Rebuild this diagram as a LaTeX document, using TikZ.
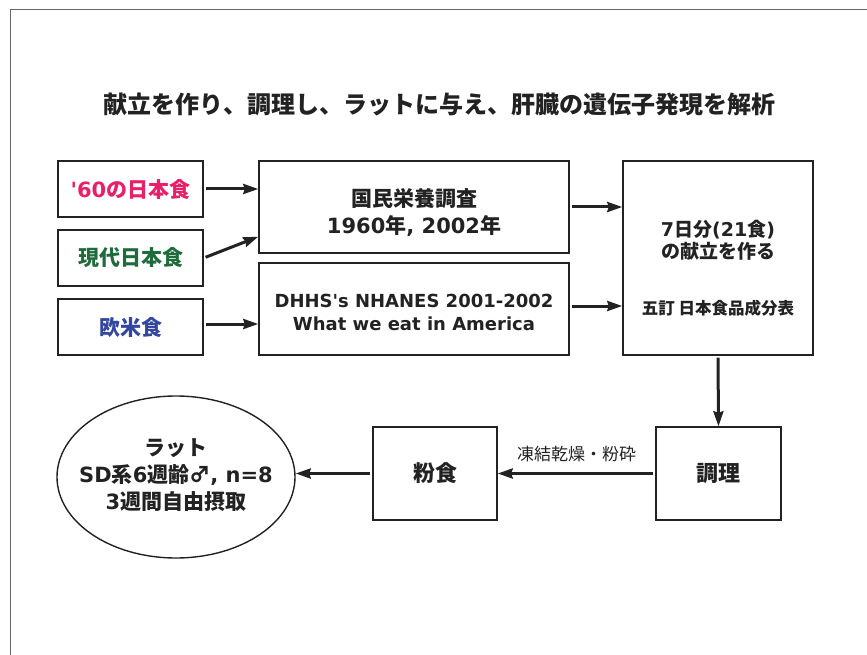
\documentclass[tikz,border=0pt]{standalone}
\usepackage{fontspec}
\setmainfont{DejaVu Sans}[Ligatures=TeXOff]
\newfontfamily\jp{Noto Sans CJK JP}
\usetikzlibrary{arrows.meta,shapes.geometric}
\definecolor{ink}{HTML}{222222}
\definecolor{framec}{HTML}{666666}
\definecolor{pinkc}{HTML}{E8206A}
\definecolor{greenc}{HTML}{1E6B3C}
\definecolor{bluec}{HTML}{3447A0}
\newcommand\J[1]{{\jp #1}}
\newcommand\lift[1]{\rule{0pt}{#1}}
\tikzset{
  box/.style={draw=ink, line width=1.4pt, inner sep=0pt, align=center, text=ink},
  arr/.style={draw=ink, line width=3pt, shorten <=2pt, -{Stealth[length=15pt,width=10pt,inset=1.5pt]}},
  big/.style={font=\bfseries\fontsize{21}{27}\selectfont},
}
\begin{document}
\begin{tikzpicture}[x=1pt,y=-1pt]
\useasboundingbox (0,0) rectangle (867,655);
\draw[framec, line width=1pt] (10,655) -- (10,10) -- (867,10);

\node[text=ink, font=\jp\bfseries\fontsize{24}{28}\selectfont] (title) at (439.5,104)
  {献立を作り、調理し、ラットに与え、肝臓の遺伝子発現を解析};

\node[box, big, minimum width=145pt, minimum height=56pt, text=pinkc] (n60) at (130.5,189) {'60\J{の日本食}};
\node[box, big, minimum width=145pt, minimum height=56pt, text=greenc] (nmod) at (130.5,258) {\J{現代日本食}};
\node[box, big, minimum width=145pt, minimum height=56pt, text=bluec] (nwest) at (130.5,327) {\J{欧米食}};

\node[box, big, minimum width=310pt, minimum height=92pt] (nkok) at (414,207)
  {\lift{28pt}\J{国民栄養調査}\\1960\J{年}, 2002\J{年}};
\node[box, font=\bfseries\fontsize{18}{23}\selectfont, minimum width=310pt, minimum height=92pt] (ndhhs) at (414,309)
  {\lift{20pt}DHHS's NHANES 2001-2002\\What we eat in America};

\node[box, font=\bfseries\fontsize{19}{22}\selectfont, minimum width=190pt, minimum height=194pt] (nmenu) at (718,258)
  {\lift{36pt}7\J{日分}(21\J{食})\\\J{の献立を作る}\\[34pt]{\fontsize{16.5}{22}\selectfont\J{五訂 日本食品成分表}}};

\node[box, font=\bfseries\fontsize{22}{27}\selectfont, minimum width=125pt, minimum height=93pt] (ncook) at (718.5,473.5) {\J{調理}};
\node[box, font=\bfseries\fontsize{22}{27}\selectfont, minimum width=124pt, minimum height=93pt] (npow) at (435,473.5) {\J{粉食}};
\node[box, big, ellipse, minimum width=238pt, minimum height=162pt] (nrat) at (176,477)
  {\makebox[0pt]{\begin{tabular}{@{}c@{}}\J{ラット}\\SD\J{系}6\J{週齢♂}, n=8\\3\J{週間自由摂取}\end{tabular}}\rule[-8pt]{0pt}{0pt}};

\draw[arr] (n60.east) -- (n60.east -| nkok.west);
\draw[arr] (nmod.east) -- ([yshift=17pt]nkok.south west);
\draw[arr] ([yshift=3pt]nwest.east) -- ([yshift=3pt]nwest.east -| ndhhs.west);
\draw[arr] (nkok.east) -- (nkok.east -| nmenu.west);
\draw[arr] ([yshift=3pt]ndhhs.east) -- ([yshift=3pt]ndhhs.east -| nmenu.west);
\draw[arr] (nmenu.south) -- (ncook.north);
\draw[arr] (ncook.west) -- (npow.east)
  node[midway, above=10pt, inner sep=0pt, text=ink, font=\jp\fontsize{17}{20}\selectfont] (lbl) {凍結乾燥・粉砕};
\draw[arr] (npow.west) -- (npow.west -| nrat.east);
\end{tikzpicture}
\end{document}
